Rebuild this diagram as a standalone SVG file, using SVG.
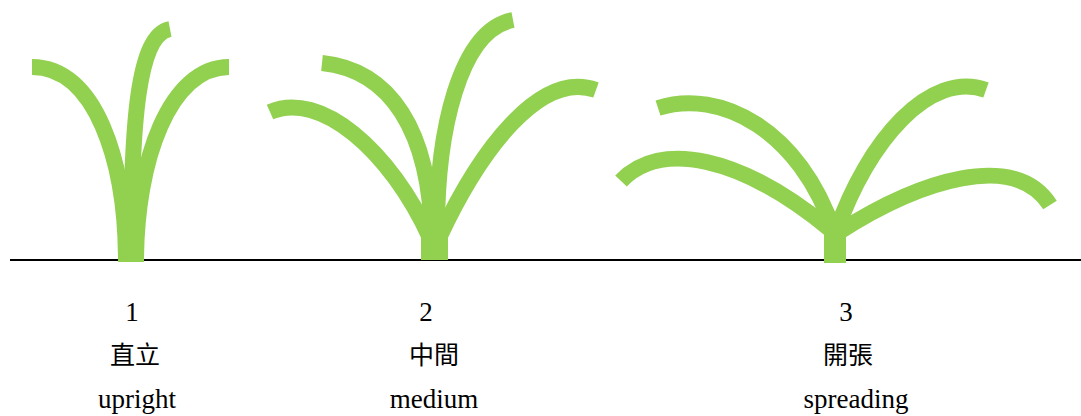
<svg xmlns="http://www.w3.org/2000/svg" width="1081" height="416" viewBox="0 0 1081 416">
<style>
.leaf{fill:none;stroke:#92D050;stroke-width:16;stroke-linecap:butt}
.stem{fill:#92D050}
.num{font-family:"Liberation Serif","Times New Roman",serif;font-size:27px;fill:#000;text-anchor:middle}
.cjk{font-family:"Liberation Serif","Noto Sans CJK TC",serif;font-size:25px;fill:#000;text-anchor:middle}
.en{font-family:"Liberation Serif","Times New Roman",serif;font-size:27px;fill:#000;text-anchor:middle}
</style>
<rect width="1081" height="416" fill="#fff"/>
<g id="ground"><line x1="10" y1="260" x2="1081" y2="260" stroke="#000" stroke-width="2"/></g>
<g id="plant1">
<path class="leaf" d="M32,67 C95,67 126,160 126,262"/>
<path class="leaf" d="M131,262 C131,120 138,35 170,29"/>
<path class="leaf" d="M136,262 C136,160 170,67 229,67"/>
<text class="num" x="132" y="321">1</text>
<text class="cjk" x="135" y="364">直立</text>
<text class="en" x="137" y="408">upright</text>
</g>
<g id="plant2">
<rect class="stem" x="421" y="228" width="27" height="32"/>
<path class="leaf" d="M270,112 C320,90 390,150 430,238"/>
<path class="leaf" d="M322,63 C390,70 430,130 432,238"/>
<path class="leaf" d="M437,238 C436,130 460,30 513,20"/>
<path class="leaf" d="M439,238 C480,150 540,70 596,90"/>
<text class="num" x="426" y="321">2</text>
<text class="cjk" x="434" y="364">中間</text>
<text class="en" x="434" y="408">medium</text>
</g>
<g id="plant3">
<rect class="stem" x="824" y="222" width="22" height="41"/>
<path class="leaf" d="M621,181 C660,140 740,155 831,230"/>
<path class="leaf" d="M658,108 C720,88 800,130 834,232"/>
<path class="leaf" d="M836,232 C868,140 930,70 986,90"/>
<path class="leaf" d="M839,232 C920,180 1015,150 1050,205"/>
<text class="num" x="846" y="321">3</text>
<text class="cjk" x="848" y="364">開張</text>
<text class="en" x="856" y="408">spreading</text>
</g>
</svg>
